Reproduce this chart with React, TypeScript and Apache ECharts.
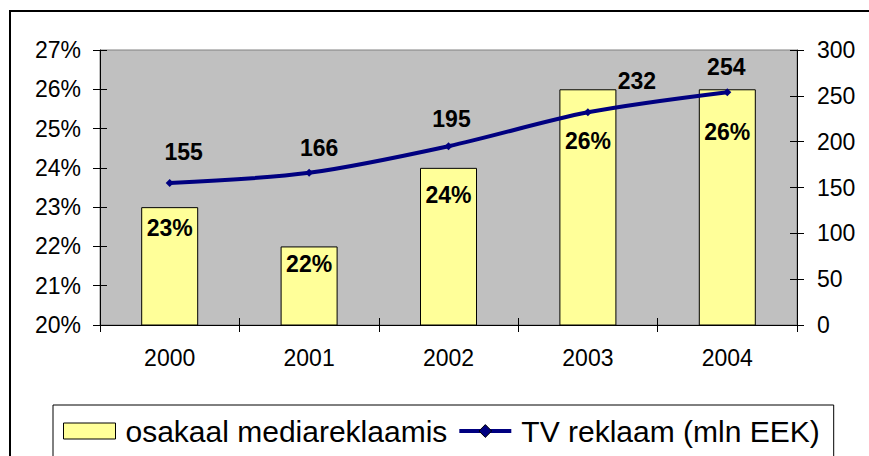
import React, { useEffect, useRef } from "react";
import * as echarts from "echarts";

const years = ["2000", "2001", "2002", "2003", "2004"];
const mediaShare = [23, 22, 24, 26, 26]; // %
const tvAdvertising = [155, 166, 195, 232, 254]; // mln EEK
const shareAxis = { min: 20, max: 27, step: 1 };
const tvAxis = { min: 0, max: 300, step: 50 };
const shareSeriesName = "osakaal mediareklaamis";
const tvSeriesName = "TV reklaam (mln EEK)";

// label nudges (layout only)
const tvLabelNudge = [[14, -10], [10, -4], [3, -7], [49, -11], [-1, -5]];
const shareLabelNudge = [0, -3, 7, 31, 22];

const FONT = "'Liberation Sans', Arial, sans-serif";

export default function App() {
  const ref = useRef<HTMLDivElement>(null);
  useEffect(() => {
    document.body.style.margin = "0";
    const chart = echarts.init(ref.current!, null, { renderer: "svg" });
    const tickCommon = { show: true, length: 7, lineStyle: { color: "#000", width: 1 } };
    chart.setOption({
      animation: false,
      textStyle: { fontFamily: FONT },
      grid: {
        left: 100, top: 50, right: 72, bottom: 131,
        show: true, backgroundColor: "#C0C0C0", borderColor: "#808080", borderWidth: 1,
      },
      graphic: [
        {
          type: "rect", z: 100, silent: true,
          shape: { x: 10, y: 11, width: 1000, height: 1000 },
          style: { fill: "transparent", stroke: "#000", lineWidth: 2 },
        },
      ],
      legend: {
        left: 53, top: 405,
        padding: [11, 14, 11, 10],
        itemGap: 10,
        itemWidth: 52, itemHeight: 16,
        borderColor: "#000", borderWidth: 1, borderRadius: 0,
        backgroundColor: "#fff",
        itemStyle: { borderWidth: 1, borderColor: "#000" },
        lineStyle: { width: 4 },
        textStyle: { fontSize: 30, color: "#000", fontFamily: FONT, padding: [0, 0, 0, 5] },
        data: [
          { name: shareSeriesName, icon: "rect" },
          { name: tvSeriesName },
        ],
      },
      xAxis: [
        {
          type: "category", data: years, position: "bottom",
          axisLine: { show: true, lineStyle: { color: "#000", width: 1 } },
          axisTick: { ...tickCommon, inside: false },
          axisLabel: { fontSize: 23, color: "#000", margin: 21, fontFamily: FONT },
        },
        {
          type: "category", data: years, position: "bottom",
          axisLine: { show: false },
          axisTick: { ...tickCommon, inside: true },
          axisLabel: { show: false },
        },
      ],
      yAxis: [
        {
          type: "value", position: "left",
          min: shareAxis.min, max: shareAxis.max, interval: shareAxis.step,
          axisLine: { show: true, lineStyle: { color: "#000", width: 1 } },
          axisTick: { ...tickCommon, inside: false },
          axisLabel: { fontSize: 23, color: "#000", margin: 19, formatter: "{value}%", fontFamily: FONT },
          splitLine: { show: false },
        },
        {
          type: "value", position: "right",
          min: tvAxis.min, max: tvAxis.max, interval: tvAxis.step,
          axisLine: { show: true, lineStyle: { color: "#000", width: 1 } },
          axisTick: { ...tickCommon, inside: false },
          axisLabel: { fontSize: 23, color: "#000", margin: 20, fontFamily: FONT },
          splitLine: { show: false },
        },
        {
          type: "value", position: "left",
          min: shareAxis.min, max: shareAxis.max, interval: shareAxis.step,
          axisLine: { show: false },
          axisTick: { ...tickCommon, inside: true },
          axisLabel: { show: false },
          splitLine: { show: false },
        },
        {
          type: "value", position: "right",
          min: tvAxis.min, max: tvAxis.max, interval: tvAxis.step,
          axisLine: { show: false },
          axisTick: { ...tickCommon, inside: true },
          axisLabel: { show: false },
          splitLine: { show: false },
        },
      ],
      series: [
        {
          name: shareSeriesName,
          type: "bar",
          xAxisIndex: 0, yAxisIndex: 0,
          barWidth: 57,
          itemStyle: { color: "#FFFF99", borderColor: "#000", borderWidth: 1 },
          data: mediaShare.map((v, i) => ({
            value: v,
            label: { offset: [0, shareLabelNudge[i]] },
          })),
          label: {
            show: true, position: "insideTop", distance: 9,
            formatter: "{c}%", fontSize: 23, fontWeight: "bold", color: "#000", fontFamily: FONT,
          },
        },
        {
          name: tvSeriesName,
          type: "line",
          xAxisIndex: 0, yAxisIndex: 1,
          smooth: 0.3,
          symbol: "diamond", symbolSize: 8,
          lineStyle: { color: "#000080", width: 4 },
          itemStyle: { color: "#000080" },
          data: tvAdvertising.map((v, i) => ({
            value: v,
            label: { offset: tvLabelNudge[i] },
          })),
          label: {
            show: true, position: "top", distance: 5,
            fontSize: 23, fontWeight: "bold", color: "#000", fontFamily: FONT,
          },
          z: 5,
        },
      ],
    });
    return () => chart.dispose();
  }, []);
  return <div ref={ref} style={{ width: 869, height: 456 }} />;
}
